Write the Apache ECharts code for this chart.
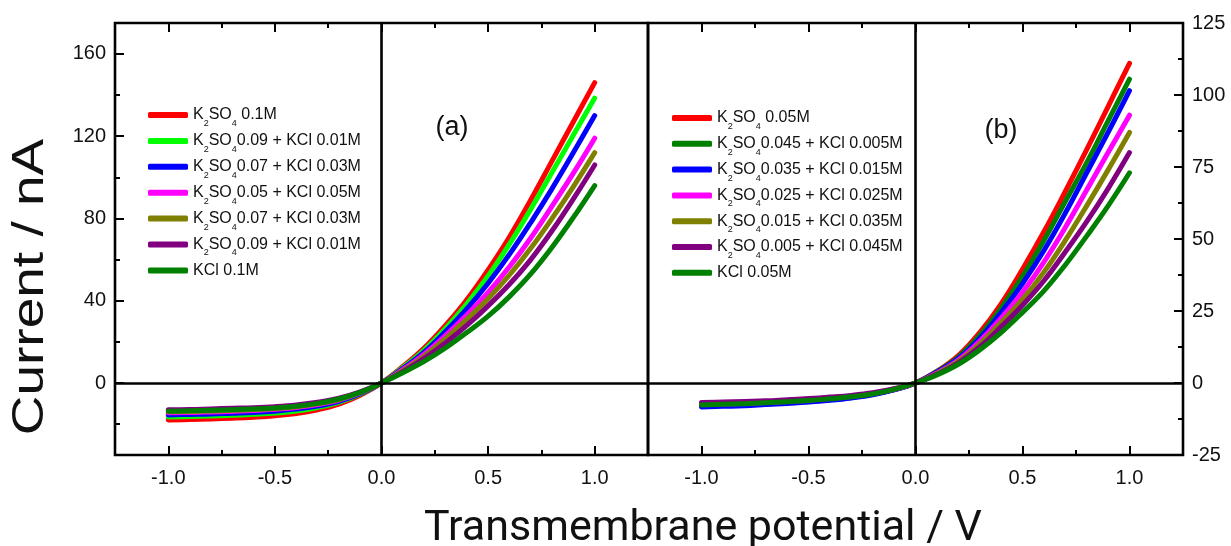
<!DOCTYPE html>
<html>
<head>
<meta charset="utf-8">
<script src="https://cdn.jsdelivr.net/npm/echarts@6/dist/echarts.min.js"></script>
<style>html,body{margin:0;padding:0;background:#fff}#c{width:1231px;height:546px}</style>
</head>
<body>
<div id="c"></div>
<script>
// ---- data ----
const volts = [-1.0,-0.9,-0.8,-0.7,-0.6,-0.5,-0.4,-0.3,-0.2,-0.1,0,0.1,0.2,0.3,0.4,0.5,0.6,0.7,0.8,0.9,1.0];

const labelsA = ['K_2SO_4 0.1M','K_2SO_40.09 + KCl 0.01M','K_2SO_40.07 + KCl 0.03M','K_2SO_40.05 + KCl 0.05M','K_2SO_40.07 + KCl 0.03M','K_2SO_40.09 + KCl 0.01M','KCl 0.1M'];
const labelsB = ['K_2SO_4 0.05M','K_2SO_40.045 + KCl 0.005M','K_2SO_40.035 + KCl 0.015M','K_2SO_40.025 + KCl 0.025M','K_2SO_40.015 + KCl 0.035M','K_2SO_40.005 + KCl 0.045M','KCl 0.05M'];
const colorsA = ['#ff0000','#00ff00','#0000ff','#ff00ff','#808000','#800080','#008000'];
const colorsB = ['#ff0000','#008000','#0000ff','#ff00ff','#808000','#800080','#008000'];

// panel (a), current in nA (left axis)
const a1 = [-18,-17.8,-17.5,-17.1,-16.6,-15.9,-14.8,-13,-10.3,-6,0,8,17,28,40.5,55,71,89,108,127,146];
const a2 = [-16.5,-16.3,-16.0,-15.7,-15.2,-14.6,-13.6,-11.9,-9.4,-5.5,0,7.5,16,26.5,38.5,52,67.5,84.5,102.5,120.5,138.5];
const a3 = [-15.5,-15.3,-15.1,-14.7,-14.3,-13.7,-12.7,-11.2,-8.9,-5.2,0,7,15,25,36,48.5,62.5,78,94.5,112,130];
const a4 = [-14.5,-14.3,-14.1,-13.8,-13.4,-12.8,-11.9,-10.5,-8.3,-4.8,0,6.5,14,23,33,44,56.5,70.5,86,102,119];
const a5 = [-14,-13.8,-13.6,-13.3,-12.9,-12.4,-11.5,-10.1,-8.0,-4.7,0,6,13,21.5,31,41,52.5,65.5,80,95.5,112];
const a6 = [-13,-12.9,-12.6,-12.3,-12.0,-11.5,-10.7,-9.4,-7.4,-4.3,0,5.5,12,19.5,28,37.5,48,60,74,89.5,106];
const a7 = [-13.7,-13.5,-13.3,-13.0,-12.6,-12.1,-11.3,-9.9,-7.8,-4.6,0,5,10.5,17,24.5,32.5,42,53,66,80.5,96];

// panel (b), current in nA (right axis)
const b1 = [-7.8,-7.6,-7.4,-7.1,-6.7,-6.2,-5.6,-4.9,-3.8,-2.3,0,4,9.5,17.5,27.5,39.5,52.5,66.5,81,96,111];
const b2 = [-8.0,-7.8,-7.6,-7.3,-6.8,-6.4,-5.8,-5.0,-3.9,-2.3,0,4,9,16.5,26,37,49.5,63,76.5,91,105.5];
const b3 = [-8.3,-8.1,-7.9,-7.5,-7.1,-6.6,-6.0,-5.2,-4.1,-2.4,0,3.8,8.5,15.5,24.5,34.5,46,59,73,87,101.5];
const b4 = [-7.5,-7.3,-7.1,-6.8,-6.4,-6.0,-5.4,-4.7,-3.7,-2.2,0,3.5,8,14.5,22.5,31.5,42,54,67,80,93];
const b5 = [-7.2,-7.0,-6.8,-6.5,-6.1,-5.8,-5.2,-4.5,-3.6,-2.1,0,3.3,7.5,13.5,21,29,38.5,49.5,61.5,74,87];
const b6 = [-6.8,-6.6,-6.4,-6.2,-5.8,-5.4,-4.9,-4.3,-3.4,-2.0,0,3,7,12.5,19.5,27,35.5,45.5,56,67.5,80];
const b7 = [-7.6,-7.4,-7.2,-6.9,-6.5,-6.1,-5.5,-4.8,-3.8,-2.2,0,2.8,6.5,11.5,17.5,24.5,32,41,51,61.5,73];

const xMajorTicks = [-1.0,-0.5,0,0.5,1.0];
const xMinorTicks = [-0.75,-0.25,0.25,0.75];
const yMajorTicksA = [0,40,80,120,160];
const yMinorTicksA = [-20,20,60,100,140];

// ---- chart ----
const seriesA = [a1,a2,a3,a4,a5,a6,a7];
const seriesB = [b1,b2,b3,b4,b5,b6,b7];
const FONT = 'Liberation Sans, Arial, sans-serif';
const nameA = labelsA.map((_, i) => 'a' + i);
const nameB = labelsB.map((_, i) => 'b' + i);
function richText(s) { return '{n|' + s.replace(/_(\d)/g, '}{s|$1}{n|') + '}'; }

function xAxisSet(gridIndex) {
  const base = {gridIndex, type:'value', min:-1.25, max:1.25, splitLine:{show:false},
    axisLine:{show:false, onZero:false}};
  const tick = (vals, len) => ({show:true, inside:true, length:len, customValues:vals, lineStyle:{color:'#000', width:2}});
  return [
    Object.assign({}, base, {position:'bottom', axisTick:tick(xMajorTicks, 9),
      axisLabel:{show:true, customValues:xMajorTicks, formatter:v => Number(v).toFixed(1), fontSize:20, fontFamily:FONT, color:'#111', margin:13}}),
    Object.assign({}, base, {position:'bottom', axisTick:tick(xMinorTicks, 5), axisLabel:{show:false}}),
    Object.assign({}, base, {position:'top', axisTick:tick(xMajorTicks, 9), axisLabel:{show:false}}),
    Object.assign({}, base, {position:'top', axisTick:tick(xMinorTicks, 5), axisLabel:{show:false}})
  ];
}

const xAxes = xAxisSet(0).concat(xAxisSet(1));
const yAxes = [
  {gridIndex:0, type:'value', position:'left', min:-35, max:175, splitLine:{show:false},
   axisLine:{show:false, onZero:false},
   axisTick:{show:true, inside:true, length:9, customValues:yMajorTicksA, lineStyle:{color:'#000', width:2}},
   axisLabel:{show:true, customValues:yMajorTicksA, fontSize:20, fontFamily:FONT, color:'#111', margin:9}},
  {gridIndex:0, type:'value', position:'left', min:-35, max:175, splitLine:{show:false},
   axisLine:{show:false, onZero:false},
   axisTick:{show:true, inside:true, length:5, customValues:yMinorTicksA, lineStyle:{color:'#000', width:2}},
   axisLabel:{show:false}},
  {gridIndex:1, type:'value', position:'right', min:-25, max:125, interval:25, splitLine:{show:false},
   axisLine:{show:false, onZero:false},
   axisTick:{show:true, inside:true, length:9, lineStyle:{color:'#000', width:2}},
   minorTick:{show:true, splitNumber:2, length:5, lineStyle:{color:'#000', width:2}},
   minorSplitLine:{show:false},
   axisLabel:{show:true, fontSize:20, fontFamily:FONT, color:'#111', margin:9}}
];

const series = [];
function zeroSeries(xi, yi) {
  return {type:'line', xAxisIndex:xi, yAxisIndex:yi, data:[[0,0]], showSymbol:false, lineStyle:{width:0}, silent:true, z:1,
    markLine:{silent:true, symbol:['none','none'], label:{show:false}, animation:false,
      lineStyle:{color:'#000', width:2.6, type:'solid'}, emphasis:{disabled:true},
      data:[{yAxis:0}, {xAxis:0}]}};
}
series.push(zeroSeries(0, 0));
series.push(zeroSeries(4, 2));
seriesA.forEach((arr, i) => series.push({
  name:nameA[i], type:'line', xAxisIndex:0, yAxisIndex:0, z:3,
  data: volts.map((v, k) => [v, arr[k]]), showSymbol:false, smooth:0.4,
  color: colorsA[i], lineStyle:{width:5, cap:'round', join:'round', color:colorsA[i]}, emphasis:{disabled:true}
}));
seriesB.forEach((arr, i) => series.push({
  name:nameB[i], type:'line', xAxisIndex:4, yAxisIndex:2, z:3,
  data: volts.map((v, k) => [v, arr[k]]), showSymbol:false, smooth:0.4,
  color: colorsB[i], lineStyle:{width:5, cap:'round', join:'round', color:colorsB[i]}, emphasis:{disabled:true}
}));

const legendText = {
  color:'#111', fontFamily:FONT,
  rich:{
    n:{fontSize:16, lineHeight:26, fontFamily:FONT, color:'#111'},
    s:{fontSize:9, lineHeight:9, verticalAlign:'bottom', fontFamily:FONT, color:'#111'}
  }
};

const option = {
  animation:false,
  backgroundColor:'#fff',
  grid:[
    {left:115, top:23, width:533, height:432, show:true, borderColor:'#000', borderWidth:2.6, backgroundColor:'transparent', containLabel:false, outerBoundsMode:'none'},
    {left:648, top:23, width:535, height:432, show:true, borderColor:'#000', borderWidth:2.6, backgroundColor:'transparent', containLabel:false, outerBoundsMode:'none'}
  ],
  xAxis: xAxes,
  yAxis: yAxes,
  legend:[
    {data:nameA, orient:'vertical', left:148, top:107, padding:0, itemGap:4.9, itemWidth:40, itemHeight:6, icon:'roundRect',
     selectedMode:false, formatter:name => richText(labelsA[nameA.indexOf(name)]), textStyle:legendText},
    {data:nameB, orient:'vertical', left:672, top:110, padding:0, itemGap:4.8, itemWidth:40, itemHeight:6, icon:'roundRect',
     selectedMode:false, formatter:name => richText(labelsB[nameB.indexOf(name)]), textStyle:legendText}
  ],
  graphic:[
    {type:'text', x:452, y:128, silent:true, style:{text:'(a)', font:'27px ' + FONT, fill:'#111', align:'center', verticalAlign:'middle'}},
    {type:'text', x:1001, y:131, silent:true, style:{text:'(b)', font:'27px ' + FONT, fill:'#111', align:'center', verticalAlign:'middle'}},
    {type:'text', x:31, y:287, rotation:Math.PI/2, scaleX:1.25, silent:true,
     style:{text:'Current / nA', font:'44px ' + FONT, fill:'#111', align:'center', verticalAlign:'middle'}},
    {type:'text', x:703, y:529, silent:true,
     style:{text:'Transmembrane potential / V', font:'43px Roboto, sans-serif', fill:'#111', align:'center', verticalAlign:'middle'}}
  ],
  series: series
};

const chart = echarts.init(document.getElementById('c'), null, {renderer:'canvas'});
chart.setOption(option);
</script>
</body>
</html>
